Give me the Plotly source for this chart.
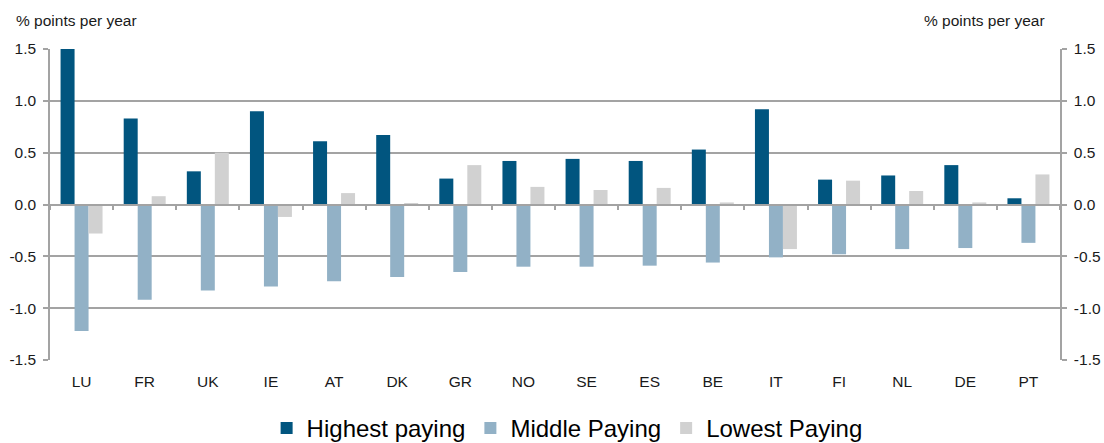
import plotly.graph_objects as go

# Countries and annual change (percentage points per year) by pay tier
countries = ["LU", "FR", "UK", "IE", "AT", "DK", "GR", "NO", "SE", "ES",
             "BE", "IT", "FI", "NL", "DE", "PT"]
highest_paying = [1.50, 0.83, 0.32, 0.90, 0.61, 0.67, 0.25, 0.42, 0.44, 0.42,
                  0.53, 0.92, 0.24, 0.28, 0.38, 0.06]
middle_paying = [-1.22, -0.92, -0.83, -0.79, -0.74, -0.70, -0.65, -0.60, -0.60, -0.59,
                 -0.56, -0.51, -0.48, -0.43, -0.42, -0.37]
lowest_paying = [-0.28, 0.08, 0.50, -0.12, 0.11, 0.01, 0.38, 0.17, 0.14, 0.16,
                 0.02, -0.43, 0.23, 0.13, 0.02, 0.29]

y_tick_vals = [-1.5, -1.0, -0.5, 0.0, 0.5, 1.0, 1.5]
y_tick_text = ["-1.5", "-1.0", "-0.5", "0.0", "0.5", "1.0", "1.5"]

FONT = "Liberation Sans, Arial, sans-serif"
GRID = "#A3A3A3"
TEXT = "#1A1A1A"

fig = go.Figure()
series = [
    ("Highest paying", highest_paying, "#01557F"),
    ("Middle Paying", middle_paying, "#92B1C6"),
    ("Lowest Paying", lowest_paying, "#D1D1D1"),
]
for name, vals, color in series:
    fig.add_trace(go.Bar(x=countries, y=vals, name=name,
                         marker=dict(color=color, line=dict(width=0))))

# Mirror trace for the right-hand value axis
fig.add_trace(go.Bar(x=countries, y=[None] * len(countries), yaxis="y2",
                     showlegend=False, hoverinfo="skip"))
# Carrier trace for the category ticks drawn along the zero line
fig.add_trace(go.Bar(x=countries, y=[None] * len(countries), xaxis="x2",
                     showlegend=False, hoverinfo="skip"))

axis_font = dict(family=FONT, size=15.5, color=TEXT)

fig.update_layout(
    width=1104, height=443,
    margin=dict(l=50, r=44, t=49, b=83, autoexpand=False),
    paper_bgcolor="white", plot_bgcolor="white",
    barmode="group", bargap=0.335, bargroupgap=0,
    font=dict(family=FONT, color=TEXT),
    xaxis=dict(type="category", categoryorder="array", categoryarray=countries,
               showgrid=False, showline=False, ticks="", zeroline=False,
               tickfont=axis_font, ticklabelstandoff=10),
    xaxis2=dict(type="category", categoryorder="array", categoryarray=countries,
                overlaying="x", anchor="free", position=0.5, side="bottom",
                showgrid=False, showline=True, linecolor=GRID, linewidth=1.5,
                ticks="outside", tickson="boundaries", ticklen=5,
                tickcolor=GRID, tickwidth=1.5, showticklabels=False,
                zeroline=False),
    yaxis=dict(range=[-1.5, 1.5], tickvals=y_tick_vals, ticktext=y_tick_text,
               showgrid=True, gridcolor=GRID, gridwidth=1.5,
               showline=True, linecolor=GRID, linewidth=1.5,
               ticks="outside", ticklen=5, tickcolor=GRID, tickwidth=1.5,
               zeroline=False, tickfont=axis_font, ticklabelstandoff=4),
    yaxis2=dict(range=[-1.5, 1.5], tickvals=y_tick_vals, ticktext=y_tick_text,
                overlaying="y", side="right", showgrid=False,
                showline=True, linecolor=GRID, linewidth=1.5,
                ticks="outside", ticklen=5, tickcolor=GRID, tickwidth=1.5,
                zeroline=False, tickfont=axis_font, ticklabelstandoff=4),
    legend=dict(orientation="h", x=0.512, xanchor="center",
                y=-0.22, yanchor="middle",
                font=dict(family=FONT, size=24, color="#000000"),
                itemwidth=30, tracegroupgap=0, bgcolor="rgba(0,0,0,0)"),
    annotations=[
        dict(text="% points per year", xref="paper", yref="paper",
             x=0, xshift=-36, y=1, yshift=29, xanchor="left", yanchor="middle",
             showarrow=False, font=dict(family=FONT, size=15.5, color=TEXT)),
        dict(text="% points per year", xref="paper", yref="paper",
             x=1, xshift=-13, y=1, yshift=29, xanchor="right", yanchor="middle",
             showarrow=False, font=dict(family=FONT, size=15.5, color=TEXT)),
    ],
)

fig.write_html("out.html")
